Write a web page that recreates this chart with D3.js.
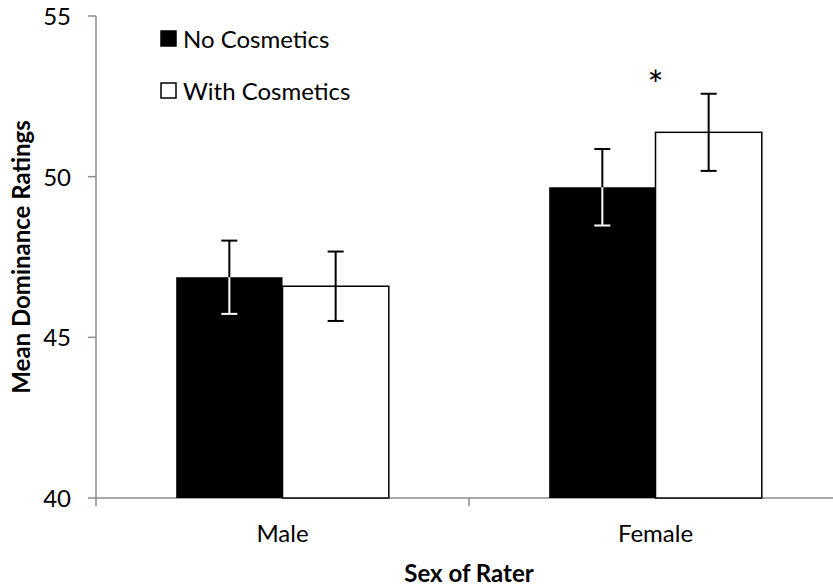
<!DOCTYPE html>
<html>
<head>
<meta charset="utf-8">
<script src="https://cdn.jsdelivr.net/npm/d3@7"></script>
<style>
  body { margin: 0; background: #fff; }
  text { font-family: Lato, "Open Sans", sans-serif; fill: #000; }
</style>
</head>
<body>
<svg width="833" height="587"></svg>
<script>
// data
const groups  = ["Male", "Female"];
const series  = ["No Cosmetics", "With Cosmetics"];
const means   = [[46.87, 46.59], [49.67, 51.38]];   // [group][series]
const errors  = [[1.14, 1.08], [1.19, 1.20]];
const yTicks  = [40, 45, 50, 55];
const fills   = ["#000", "#fff"];

const svg = d3.select("svg");
const axisColor = "#8c8c8c";

const y = d3.scaleLinear().domain([40, 55]).range([498, 16]);
const x = d3.scaleBand().domain(groups).range([96, 842]).paddingInner(0.43).paddingOuter(0.215);
const xs = d3.scaleBand().domain(series).range([0, x.bandwidth()]);

// -------- axes --------
svg.append("line").attr("x1", 96).attr("x2", 96).attr("y1", y(55)).attr("y2", y(40))
  .attr("stroke", axisColor).attr("stroke-width", 1.5);
svg.selectAll(".ytick").data(yTicks).enter().append("line")
  .attr("x1", 88).attr("x2", 96).attr("y1", d => y(d)).attr("y2", d => y(d))
  .attr("stroke", axisColor).attr("stroke-width", 1.5);
svg.selectAll(".ylab").data(yTicks).enter().append("text")
  .attr("x", 71).attr("y", d => y(d) + 9)
  .attr("text-anchor", "end").style("font-size", "24px")
  .text(d => d);

const step = x.step();
const xr = x.range();
svg.append("line").attr("x1", xr[0]).attr("x2", xr[1]).attr("y1", y(40)).attr("y2", y(40))
  .attr("stroke", axisColor).attr("stroke-width", 1.5);
svg.selectAll(".xtick").data(d3.range(groups.length + 1)).enter().append("line")
  .attr("x1", i => xr[0] + i * step).attr("x2", i => xr[0] + i * step)
  .attr("y1", y(40)).attr("y2", y(40) + 8)
  .attr("stroke", axisColor).attr("stroke-width", 1.5);

// -------- bars --------
const bars = [];
groups.forEach((g, gi) => series.forEach((s, si) => {
  bars.push({ g, s, si, v: means[gi][si], e: errors[gi][si] });
}));

svg.selectAll(".bar").data(bars).enter().append("rect")
  .attr("x", d => x(d.g) + xs(d.s))
  .attr("y", d => y(d.v))
  .attr("width", xs.bandwidth())
  .attr("height", d => y(40) - y(d.v))
  .attr("fill", d => fills[d.si])
  .attr("stroke", d => d.si === 0 ? "none" : "#000")
  .attr("stroke-width", 1.5);

// -------- error bars (white where they sit on the black bar) --------
const cap = 8;
bars.forEach(d => {
  const cx = x(d.g) + xs(d.s) + xs.bandwidth() / 2;
  const hi = y(d.v + d.e), lo = y(d.v - d.e), mid = y(d.v);
  const lowColor = d.si === 0 ? "#fff" : "#000";
  const eg = svg.append("g").attr("stroke-width", 2);
  eg.append("line").attr("x1", cx).attr("x2", cx).attr("y1", hi).attr("y2", mid).attr("stroke", "#000");
  eg.append("line").attr("x1", cx - cap).attr("x2", cx + cap).attr("y1", hi).attr("y2", hi).attr("stroke", "#000");
  eg.append("line").attr("x1", cx).attr("x2", cx).attr("y1", mid).attr("y2", lo).attr("stroke", lowColor);
  eg.append("line").attr("x1", cx - cap).attr("x2", cx + cap).attr("y1", lo).attr("y2", lo).attr("stroke", lowColor);
});

// significance marker
svg.append("text")
  .attr("x", x("Female") + xs("With Cosmetics"))
  .attr("y", 99)
  .attr("text-anchor", "middle").style("font-size", "38px")
  .text("*");

// -------- category labels & titles --------
svg.selectAll(".xlab").data(groups).enter().append("text")
  .attr("x", d => x(d) + x.bandwidth() / 2)
  .attr("y", 542)
  .attr("text-anchor", "middle").style("font-size", "24px")
  .text(d => d);

svg.append("text")
  .attr("x", 469).attr("y", 582)
  .attr("text-anchor", "middle").style("font-size", "24px").style("font-weight", "bold")
  .text("Sex of Rater");

svg.append("text")
  .attr("transform", "translate(30,257) rotate(-90)")
  .attr("text-anchor", "middle").style("font-size", "24px").style("font-weight", "bold")
  .text("Mean Dominance Ratings");

// -------- legend --------
const legend = svg.append("g");
series.forEach((s, i) => {
  const ly = 31 + i * 52;
  legend.append("rect")
    .attr("x", 161).attr("y", ly).attr("width", 15).attr("height", 15)
    .attr("fill", fills[i]).attr("stroke", "#000").attr("stroke-width", 1.5);
  legend.append("text")
    .attr("x", 183).attr("y", ly + 17)
    .style("font-size", "24px")
    .text(s);
});
</script>
</body>
</html>
